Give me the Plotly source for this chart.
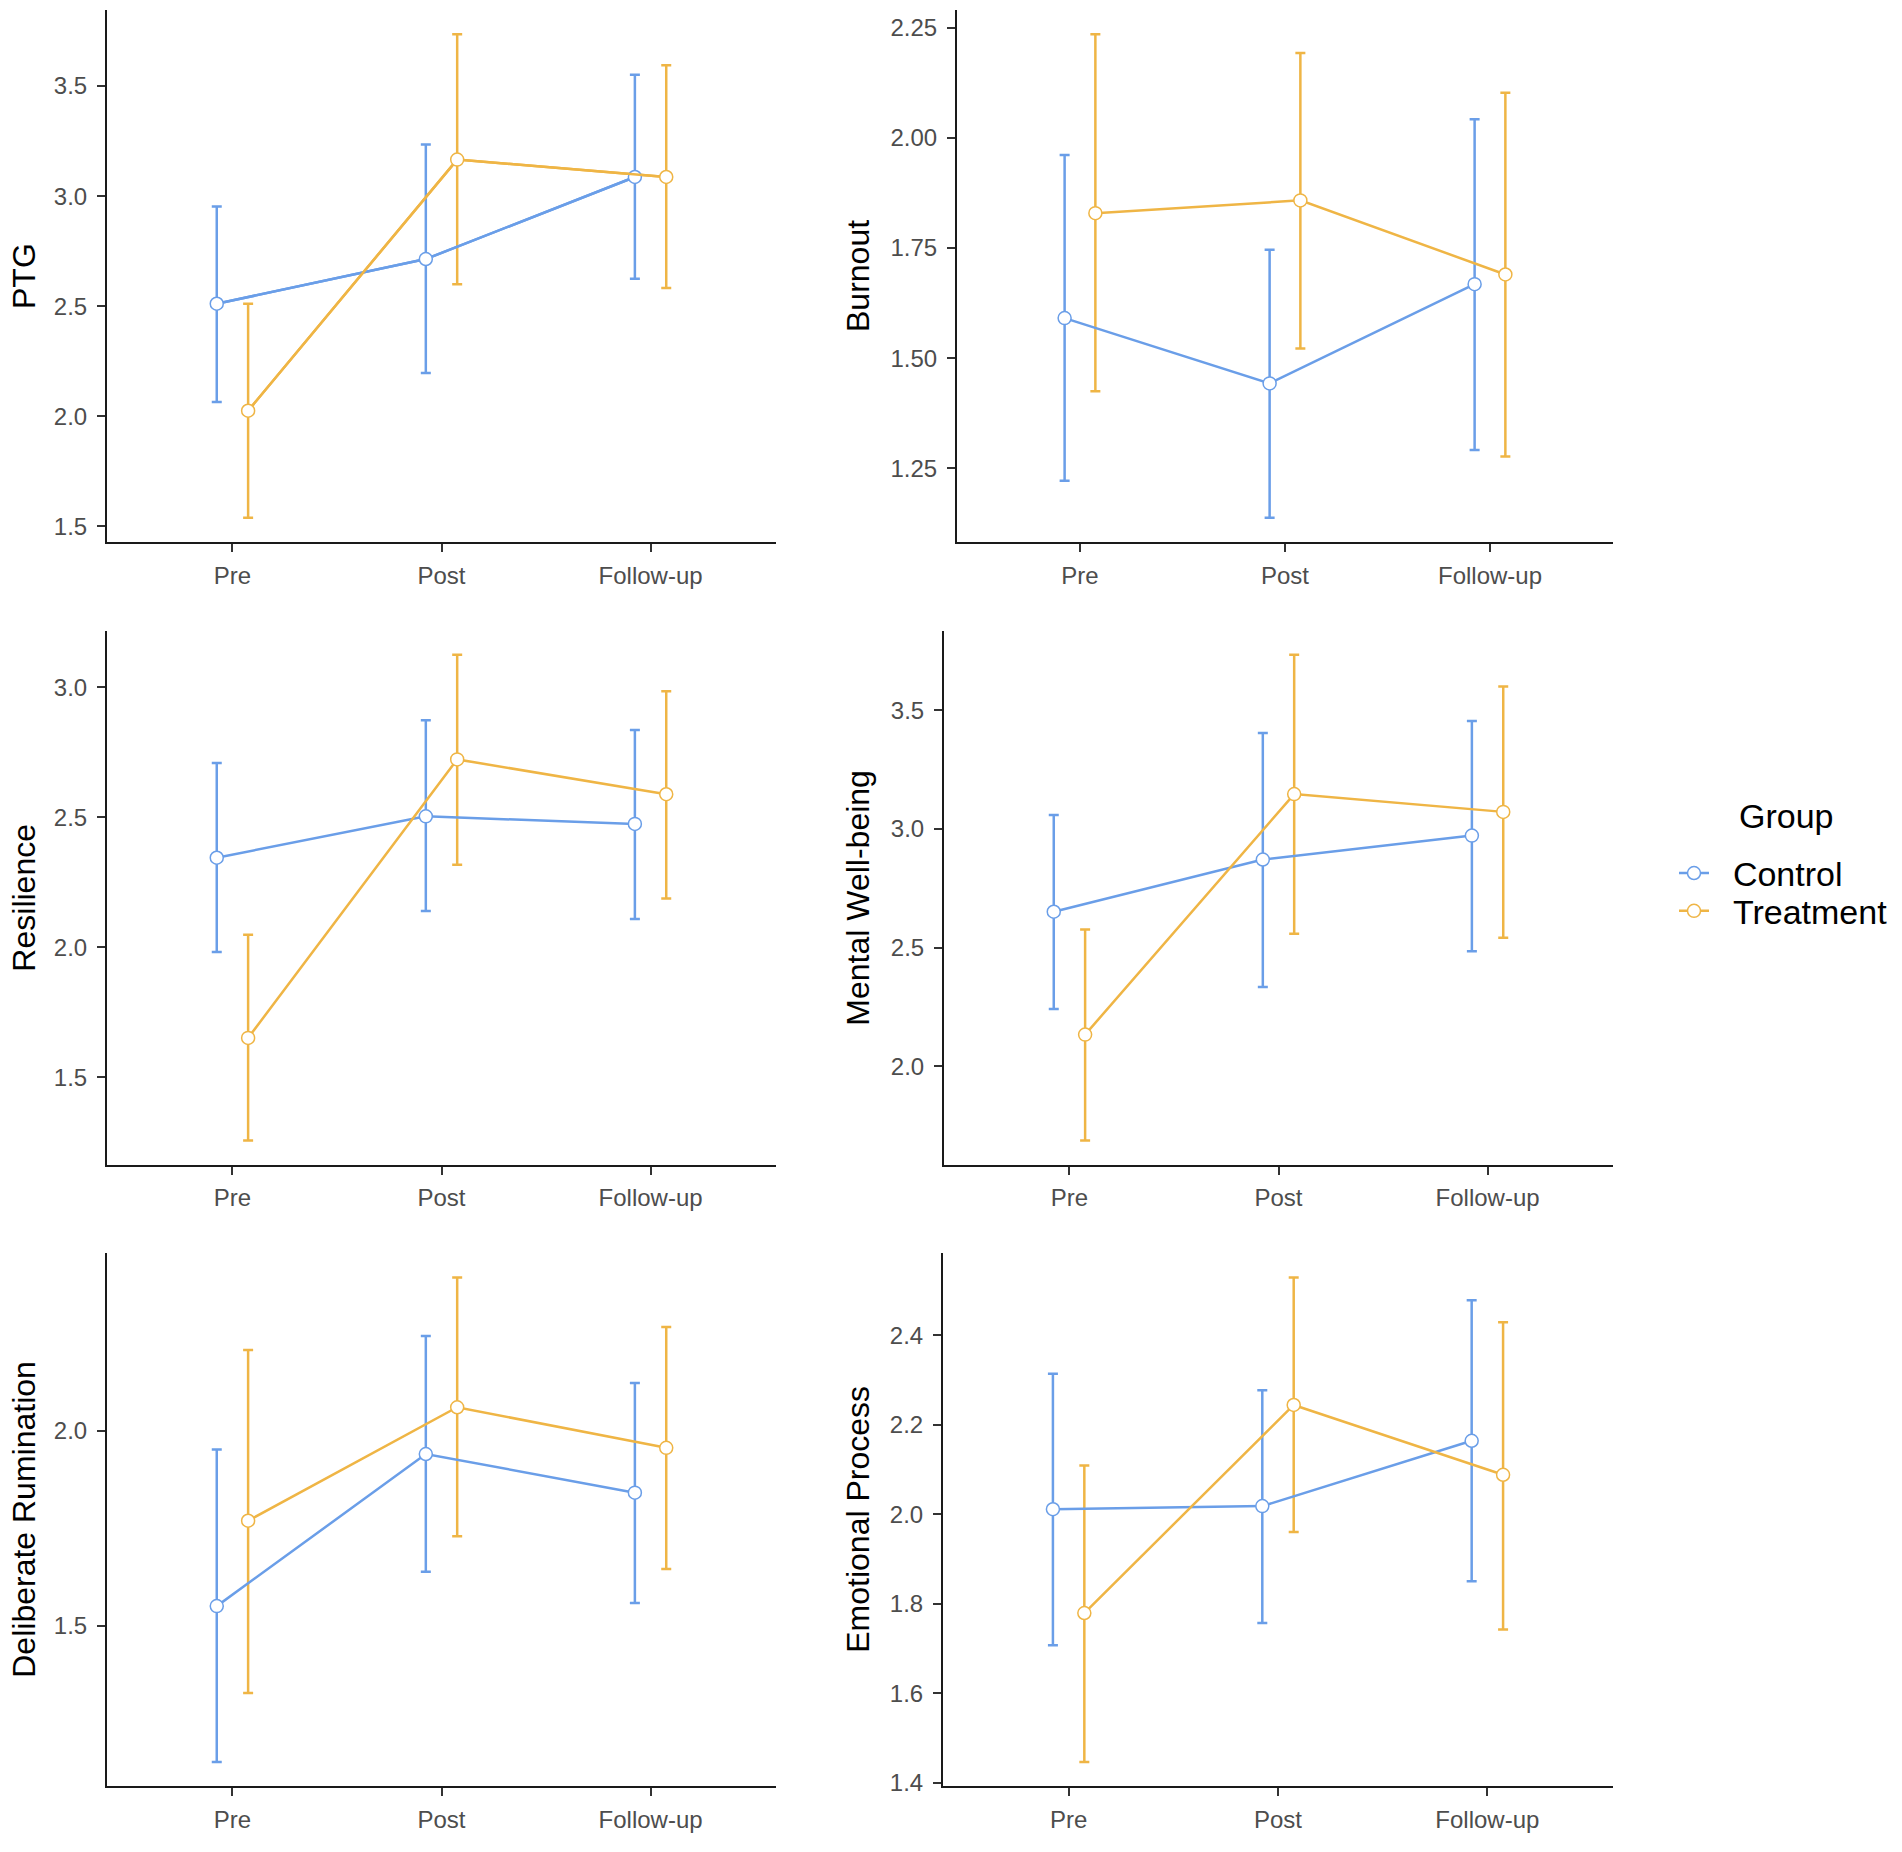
import plotly.graph_objects as go

# time points and groups
TIMES = ["Pre", "Post", "Follow-up"]
GROUPS = ["Control", "Treatment"]
COLORS = {"Control": "#6A9EE8", "Treatment": "#EFB545"}
DODGE = {"Control": -0.075, "Treatment": 0.075}

OUTCOMES = ["PTG", "Burnout", "Resilience", "Mental Well-being",
            "Deliberate Rumination", "Emotional Process"]

# means with lower / upper error bar ends
ptg_control = [2.511, 2.714, 3.087]
ptg_control_lo = [2.064, 2.196, 2.625]
ptg_control_hi = [2.953, 3.235, 3.552]
ptg_treatment = [2.025, 3.166, 3.087]
ptg_treatment_lo = [1.538, 2.599, 2.582]
ptg_treatment_hi = [2.511, 3.736, 3.595]

burnout_control = [1.591, 1.443, 1.668]
burnout_control_lo = [1.222, 1.138, 1.292]
burnout_control_hi = [1.961, 1.746, 2.042]
burnout_treatment = [1.829, 1.858, 1.690]
burnout_treatment_lo = [1.425, 1.522, 1.277]
burnout_treatment_hi = [2.235, 2.192, 2.102]

resilience_control = [2.344, 2.503, 2.474]
resilience_control_lo = [1.981, 2.139, 2.108]
resilience_control_hi = [2.708, 2.873, 2.835]
resilience_treatment = [1.651, 2.722, 2.588]
resilience_treatment_lo = [1.257, 2.317, 2.187]
resilience_treatment_hi = [2.048, 3.124, 2.984]

wellbeing_control = [2.651, 2.871, 2.972]
wellbeing_control_lo = [2.241, 2.334, 2.484]
wellbeing_control_hi = [3.059, 3.405, 3.455]
wellbeing_treatment = [2.133, 3.147, 3.072]
wellbeing_treatment_lo = [1.687, 2.558, 2.541]
wellbeing_treatment_hi = [2.576, 3.734, 3.601]

rumination_control = [1.551, 1.941, 1.842]
rumination_control_lo = [1.151, 1.639, 1.559]
rumination_control_hi = [1.953, 2.244, 2.123]
rumination_treatment = [1.770, 2.061, 1.957]
rumination_treatment_lo = [1.328, 1.730, 1.646]
rumination_treatment_hi = [2.208, 2.394, 2.267]

emotional_control = [2.011, 2.018, 2.164]
emotional_control_lo = [1.707, 1.757, 1.850]
emotional_control_hi = [2.314, 2.277, 2.478]
emotional_treatment = [1.779, 2.244, 2.088]
emotional_treatment_lo = [1.446, 1.960, 1.742]
emotional_treatment_hi = [2.109, 2.529, 2.429]

series = {
    "PTG": {
        "Control": (ptg_control, ptg_control_lo, ptg_control_hi),
        "Treatment": (ptg_treatment, ptg_treatment_lo, ptg_treatment_hi),
    },
    "Burnout": {
        "Control": (burnout_control, burnout_control_lo, burnout_control_hi),
        "Treatment": (burnout_treatment, burnout_treatment_lo, burnout_treatment_hi),
    },
    "Resilience": {
        "Control": (resilience_control, resilience_control_lo, resilience_control_hi),
        "Treatment": (resilience_treatment, resilience_treatment_lo, resilience_treatment_hi),
    },
    "Mental Well-being": {
        "Control": (wellbeing_control, wellbeing_control_lo, wellbeing_control_hi),
        "Treatment": (wellbeing_treatment, wellbeing_treatment_lo, wellbeing_treatment_hi),
    },
    "Deliberate Rumination": {
        "Control": (rumination_control, rumination_control_lo, rumination_control_hi),
        "Treatment": (rumination_treatment, rumination_treatment_lo, rumination_treatment_hi),
    },
    "Emotional Process": {
        "Control": (emotional_control, emotional_control_lo, emotional_control_hi),
        "Treatment": (emotional_treatment, emotional_treatment_lo, emotional_treatment_hi),
    },
}

W, H = 1902, 1852
FONT = "Liberation Sans, Arial, sans-serif"

# panel placement in pixels: (left, right, top, bottom)
panels = [
    (107, 776, 10, 545), (957, 1613, 10, 545),
    (107, 776, 634, 1171), (944, 1613, 634, 1171),
    (107, 776, 1260, 1796), (943, 1613, 1260, 1796),
]
dticks = [0.5, 0.25, 0.5, 0.5, 0.5, 0.2]
fmts = [".1f", ".2f", ".1f", ".1f", ".1f", ".1f"]
title_x = [24, 858, 24, 858, 24, 858]

fig = go.Figure()
layout = {}
annotations = []

for i, name in enumerate(OUTCOMES):
    n = "" if i == 0 else str(i + 1)
    xa, ya = "x" + n, "y" + n
    data = series[name]

    # error bars first, then lines, then points (ggplot layer order)
    for g in GROUPS:
        m, lo, hi = data[g]
        xs = [k + 1 + DODGE[g] for k in range(len(TIMES))]
        fig.add_trace(go.Scatter(
            x=xs, y=m, mode="markers", xaxis=xa, yaxis=ya,
            marker=dict(size=1, color="rgba(0,0,0,0)"),
            error_y=dict(type="data", symmetric=False,
                         array=[h - v for h, v in zip(hi, m)],
                         arrayminus=[v - l for v, l in zip(m, lo)],
                         color=COLORS[g], thickness=2.5, width=5),
            showlegend=False, hoverinfo="skip",
        ))
    for g in GROUPS:
        m, lo, hi = data[g]
        xs = [k + 1 + DODGE[g] for k in range(len(TIMES))]
        fig.add_trace(go.Scatter(
            x=xs, y=m, mode="lines", xaxis=xa, yaxis=ya,
            line=dict(color=COLORS[g], width=2.5),
            showlegend=False, hoverinfo="skip",
        ))
    for g in GROUPS:
        m, lo, hi = data[g]
        xs = [k + 1 + DODGE[g] for k in range(len(TIMES))]
        fig.add_trace(go.Scatter(
            x=xs, y=m, mode="lines+markers", xaxis=xa, yaxis=ya,
            name="\u00a0\u00a0" + g, showlegend=(i == 0),
            legend="legend" if g == "Control" else "legend2",
            line=dict(color=COLORS[g], width=0.01) if i else dict(color=COLORS[g], width=2.5),
            marker=dict(size=13, color="white", line=dict(color=COLORS[g], width=1.5)),
        ))

    lows = data["Control"][1] + data["Treatment"][1]
    highs = data["Control"][2] + data["Treatment"][2]
    lo_v, hi_v = min(lows), max(highs)
    pad = 0.05 * (hi_v - lo_v)

    left, right, top, bottom = panels[i]
    axis_common = dict(
        showline=True, linecolor="#1a1a1a", linewidth=2,
        showgrid=False, zeroline=False,
        ticks="outside", ticklen=8, tickwidth=2, tickcolor="#333333",
        tickfont=dict(family=FONT, size=24, color="#4D4D4D"),
    )
    layout["xaxis" + n] = dict(
        axis_common, domain=[left / W, right / W], anchor=ya,
        range=[0.4, 3.6], tickvals=[1, 2, 3], ticktext=TIMES,
        ticklabelstandoff=3,
    )
    layout["yaxis" + n] = dict(
        axis_common, domain=[1 - bottom / H, 1 - top / H], anchor=xa,
        range=[lo_v - pad, hi_v + pad], tick0=0, dtick=dticks[i], tickformat=fmts[i],
        ticklabelstandoff=5,
    )
    annotations.append(dict(
        text=name, textangle=-90, xref="paper", yref="paper",
        x=title_x[i] / W, y=1 - (top + bottom) / 2 / H,
        xanchor="center", yanchor="middle", showarrow=False,
        font=dict(family=FONT, size=32, color="black"),
    ))

annotations.append(dict(
    text="Group", xref="paper", yref="paper", x=1737 / W, y=1 - 820 / H,
    xanchor="left", yanchor="middle", showarrow=False,
    font=dict(family=FONT, size=34, color="black"),
))

legend_style = dict(
    x=1674 / W, xanchor="left", yanchor="top",
    font=dict(family=FONT, size=34, color="black"),
    bgcolor="rgba(0,0,0,0)",
)

fig.update_layout(
    width=W, height=H,
    margin=dict(l=0, r=0, t=0, b=0),
    paper_bgcolor="white", plot_bgcolor="white",
    font=dict(family=FONT),
    annotations=annotations,
    legend=dict(legend_style, y=1 - 849 / H),
    legend2=dict(legend_style, y=1 - 887 / H),
    **layout,
)

fig.write_html(
    "out.html",
    config={"displayModeBar": False},
    post_script="document.body.style.margin='0';document.body.style.overflow='hidden';",
)
